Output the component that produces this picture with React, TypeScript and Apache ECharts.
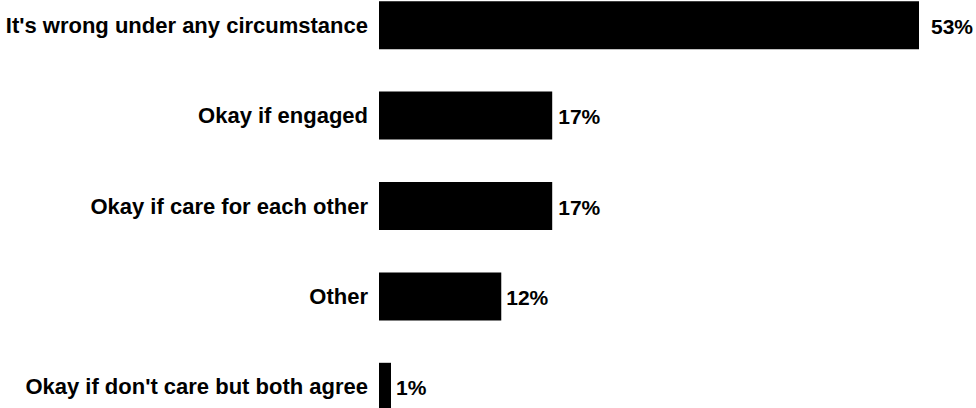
import React, { useEffect, useRef } from "react";
import * as echarts from "echarts";

const categories = [
  "It's wrong under any circumstance",
  "Okay if engaged",
  "Okay if care for each other",
  "Other",
  "Okay if don't care but both agree",
];
const values = [53, 17, 17, 12, 1];
const labelGaps = [12, 6, 6, 5, 5];

export default function App() {
  const ref = useRef<HTMLDivElement>(null);
  useEffect(() => {
    document.body.style.margin = "0";
    const chart = echarts.init(ref.current!, null, { renderer: "svg" });
    const font = "'Liberation Sans', Arial, sans-serif";
    chart.setOption({
      animation: false,
      backgroundColor: "#ffffff",
      grid: { left: 379, right: 57, top: 0, bottom: 0, containLabel: false },
      xAxis: {
        type: "value",
        min: 0,
        max: 53,
        show: false,
      },
      yAxis: {
        type: "category",
        data: categories,
        inverse: true,
        axisLine: { show: false },
        axisTick: { show: false },
        splitLine: { show: false },
        axisLabel: {
          margin: 11,
          color: "#000",
          fontSize: 22,
          fontWeight: "bold",
          fontFamily: font,
        },
      },
      series: [
        {
          type: "bar",
          barWidth: 48,
          barMinHeight: 12,
          itemStyle: { color: "#000" },
          data: values.map((v, i) => ({
            value: v,
            label: { distance: labelGaps[i] },
          })),
          label: {
            show: true,
            position: "right",
            offset: [0, 1],
            formatter: (p: any) => p.value + "%",
            color: "#000",
            fontSize: 21,
            fontWeight: "bold",
            fontFamily: font,
          },
        },
      ],
    });
    return () => chart.dispose();
  }, []);
  return (
    <div
      ref={ref}
      style={{ position: "fixed", left: 0, top: -20, width: 976, height: 452 }}
    />
  );
}
